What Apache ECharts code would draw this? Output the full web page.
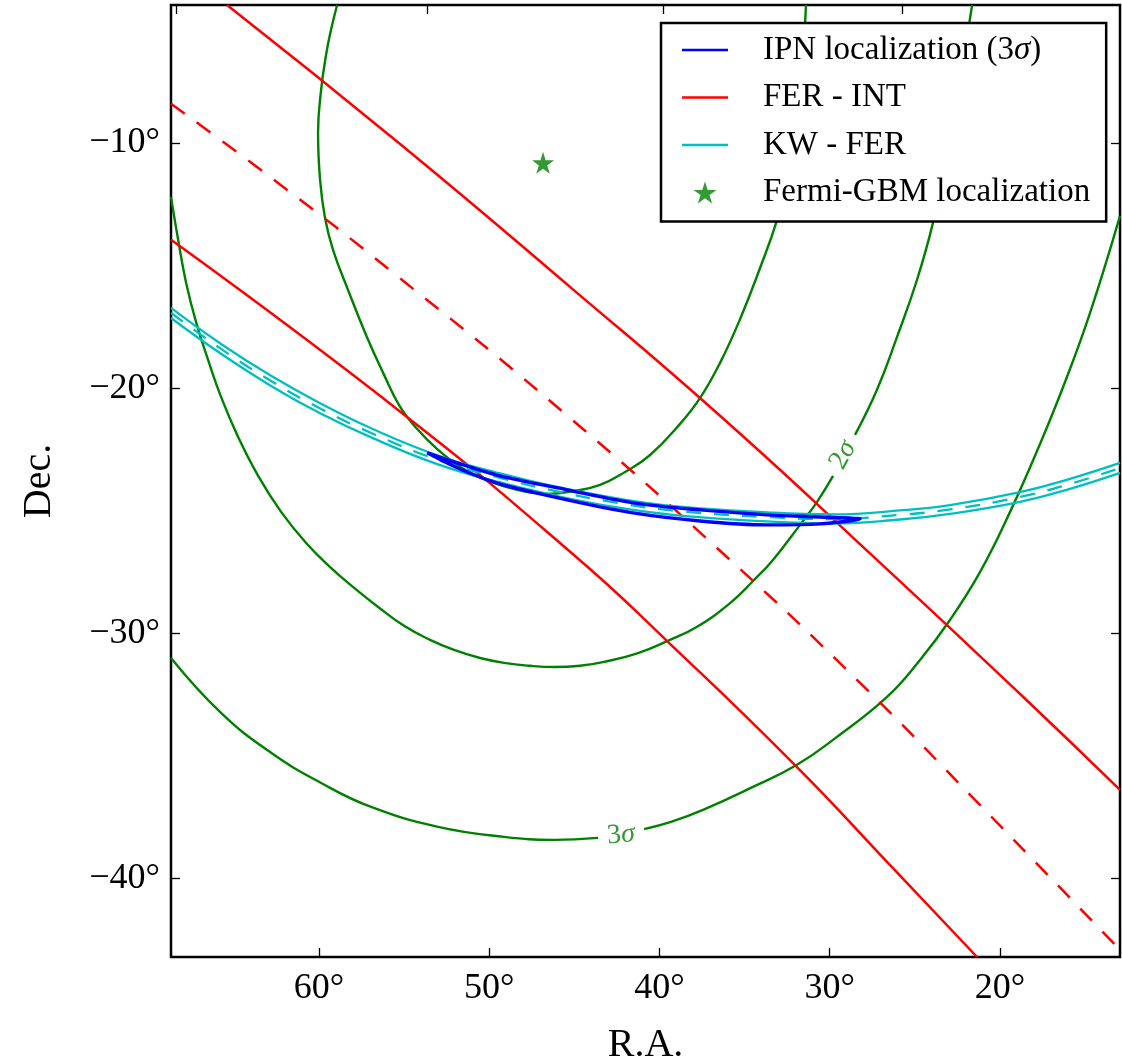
<!DOCTYPE html>
<html>
<head>
<meta charset="utf-8">
<script src="https://cdn.jsdelivr.net/npm/echarts@6/dist/echarts.min.js"></script>
<style>
html,body{margin:0;padding:0;background:#fff;}
#c{width:1122px;height:1062px;}
</style>
</head>
<body>
<div id="c"></div>
<script>
// ---- axes ----
const raTicks = [60, 50, 40, 30, 20];
const decTicks = [-40, -30, -20, -10];
const topTickRA = [68.40, 53.66, 39.80, 25.75];
const raRange = [12.94, 68.70];
const decRange = [-43.21, -4.37];

// ---- Fermi-GBM confidence contours [R.A., Dec.] ----
const sigma1 = [[58.94,-4.37],[59.30,-5.39],[59.59,-6.41],[59.88,-7.83],[60.06,-9.59],[59.94,-11.51],[59.65,-13.06],[59.18,-14.36],[58.30,-15.99],[57.24,-17.83],[56.18,-19.46],[55.30,-20.69],[54.30,-21.62],[53.01,-22.52],[51.60,-23.26],[50.07,-23.79],[48.37,-24.15],[46.72,-24.32],[44.96,-24.19],[43.49,-23.95],[42.02,-23.42],[40.55,-22.73],[38.79,-21.46],[37.61,-20.40],[36.44,-18.97],[35.26,-17.18],[34.09,-15.10],[33.09,-13.14],[32.56,-11.59],[32.15,-10.00],[31.80,-8.24],[31.56,-6.41],[31.39,-4.37]];
const sigma2Left = [[68.70,-12.20],[68.28,-13.95],[67.81,-15.71],[67.23,-17.30],[66.52,-18.85],[65.76,-20.36],[64.76,-21.99],[63.58,-23.58],[62.23,-25.05],[60.76,-26.32],[59.35,-27.30],[57.94,-28.15],[56.53,-28.93],[55.01,-29.70],[53.48,-30.27],[52.07,-30.68],[50.54,-31.01],[49.13,-31.21],[47.60,-31.33],[46.19,-31.38],[44.67,-31.33],[43.25,-31.17],[41.26,-30.81],[39.38,-30.27],[37.79,-29.74],[35.85,-28.77],[34.50,-27.87],[33.33,-27.01],[31.74,-25.58],[30.74,-24.64],[29.80,-23.58]];
const sigma2Right = [[28.51,-21.91],[27.22,-20.07],[26.04,-17.91],[24.87,-15.59],[23.93,-13.26],[23.16,-10.69],[22.51,-8.24],[22.04,-6.20],[21.63,-4.37]];
const sigma3Left = [[68.70,-31.01],[65.76,-33.25],[62.82,-34.88],[59.88,-36.11],[56.94,-37.09],[53.01,-37.90],[49.13,-38.31],[46.19,-38.43],[43.61,-38.35]];
const sigma3Right = [[40.90,-37.99],[39.32,-37.70],[37.44,-37.21],[34.50,-36.27],[31.92,-35.37],[29.57,-34.23],[26.63,-32.60],[24.69,-31.09],[22.93,-29.46],[21.16,-27.50],[19.40,-25.05],[17.64,-22.28],[16.17,-19.75],[14.70,-16.93],[12.94,-12.97]];
const contourLabelText = ['2σ', '3σ'];
const contourLabelPos = [[29.21,-22.73],[42.26,-38.23]];

// ---- FER - INT annulus ----
const ferIntEdgeA = [[65.41,-4.37],[55.24,-10.04],[45.19,-15.91],[36.44,-21.13],[27.22,-27.01],[18.81,-32.48],[12.94,-36.39]];
const ferIntEdgeB = [[68.70,-13.95],[55.36,-20.89],[44.96,-26.85],[39.49,-30.36],[31.92,-35.46],[26.63,-39.33],[21.34,-43.21]];
const ferIntCenter = [[68.70,-8.40],[62.41,-11.63],[55.71,-15.26],[45.61,-21.01],[35.85,-27.01],[28.21,-32.03],[21.63,-36.68],[12.94,-42.92]];

// ---- KW - FER annulus ----
const kwFerEdgeA = [[68.70,-16.73],[65.76,-18.20],[62.82,-19.50],[59.88,-20.64],[56.94,-21.64],[53.01,-22.75],[49.37,-23.48],[46.43,-23.97],[42.49,-24.50],[38.97,-24.83],[33.68,-25.07],[29.80,-25.15],[25.86,-24.99],[22.93,-24.77],[18.81,-24.24],[15.88,-23.70],[12.94,-23.05]];
const kwFerCenter = [[68.70,-16.93],[65.76,-18.40],[62.82,-19.71],[59.88,-20.85],[56.94,-21.83],[53.01,-22.93],[49.37,-23.66],[46.43,-24.15],[42.49,-24.68],[38.97,-25.01],[33.68,-25.26],[29.80,-25.34],[25.86,-25.17],[22.93,-24.95],[18.81,-24.44],[15.88,-23.91],[12.94,-23.26]];
const kwFerEdgeB = [[68.70,-17.14],[65.76,-18.60],[62.82,-19.91],[59.88,-21.05],[56.94,-22.01],[53.01,-23.11],[49.37,-23.85],[46.43,-24.34],[42.49,-24.87],[38.97,-25.19],[33.68,-25.44],[29.80,-25.52],[25.86,-25.36],[22.93,-25.13],[18.81,-24.64],[15.88,-24.11],[12.94,-23.46]];

// ---- IPN 3-sigma box ----
const ipnUpper = [[53.65,-22.64],[51.72,-23.09],[49.37,-23.58],[45.43,-24.15],[41.55,-24.68],[37.61,-24.97],[33.68,-25.17],[30.56,-25.26],[28.21,-25.34]];
const ipnLower = [[53.65,-22.64],[51.72,-23.30],[49.37,-23.91],[45.43,-24.56],[41.55,-25.09],[37.61,-25.42],[33.68,-25.58],[30.56,-25.54],[28.21,-25.34]];

// ---- Fermi-GBM position ----
const gbmStar = [[46.84,-10.81]];

// ---- legend names ----
const legendNames = ['IPN localization (3σ)', 'FER - INT', 'KW - FER', 'Fermi-GBM localization'];

const SERIF = "'Liberation Serif', 'DejaVu Serif', serif";
const GREEN = '#008000', RED = '#ff0000', CYAN = '#00bfbf', BLUE = '#0000ff';
const STAR = 'path://M50,2 L61.2,36.5 L97.6,36.5 L68.2,57.9 L79.4,92.4 L50,71 L20.6,92.4 L31.8,57.9 L2.4,36.5 L38.8,36.5 Z';
const LINE_ICON = 'path://M0,0 L46,0 L46,2.6 L0,2.6 Z';

function lineSeries(name, data, color, width, dashed, smooth, z) {
  return {
    type: 'line', name: name, data: data,
    showSymbol: false, symbol: 'none', smooth: smooth,
    clip: true, z: z || 2,
    lineStyle: { color: color, width: width, type: dashed || 'solid', cap: 'butt' },
    itemStyle: { color: color },
    emphasis: { disabled: true },
    silent: true
  };
}

const ipnClosed = ipnUpper.concat(ipnLower.slice().reverse());
const labelRot = [61, 5];

const chart = echarts.init(document.getElementById('c'), null, { renderer: 'canvas' });

const tickStyle = { color: '#000', width: 1.3 };
const option = {
  animation: false,
  backgroundColor: '#fff',
  grid: { left: 171, right: 2, top: 5, bottom: 105, show: true, borderColor: '#000', borderWidth: 2.5,
    backgroundColor: 'transparent', containLabel: false, outerBoundsMode: 'none' },
  legend: {
    data: legendNames.map(function (n, i) {
      return i < 3 ? { name: n, icon: LINE_ICON } : { name: n };
    }),
    orient: 'vertical',
    left: 661, top: 23,
    padding: [9, 16, 11, 21],
    itemGap: 11.5,
    itemWidth: 46,
    itemHeight: 22,
    backgroundColor: '#fff',
    borderColor: '#000',
    borderWidth: 2.5,
    borderRadius: 0,
    z: 10,
    selectedMode: false,
    formatter: function (n) { return n.replace('σ', '{i|σ}'); },
    textStyle: {
      fontFamily: SERIF, fontSize: 33, color: '#000', lineHeight: 36,
      width: 327, padding: [0, 0, 0, 30],
      rich: { i: { fontFamily: SERIF, fontSize: 33, fontStyle: 'italic', color: '#000', lineHeight: 36 } }
    }
  },
  xAxis: [
    {
      type: 'value', position: 'bottom', inverse: true,
      min: raRange[0], max: raRange[1],
      axisLine: { show: false }, splitLine: { show: false },
      axisTick: { show: true, inside: true, length: 9, customValues: raTicks, lineStyle: tickStyle },
      axisLabel: { show: true, customValues: raTicks, formatter: function (v) { return v + '°'; },
        fontFamily: SERIF, fontSize: 36, color: '#000', margin: 14 },
      name: 'R.A.', nameLocation: 'middle', nameGap: 68,
      nameTextStyle: { fontFamily: SERIF, fontSize: 40, color: '#000' }
    },
    {
      type: 'value', position: 'top', inverse: true,
      min: raRange[0], max: raRange[1],
      axisLine: { show: false }, splitLine: { show: false },
      axisTick: { show: true, inside: true, length: 9, customValues: topTickRA, lineStyle: tickStyle },
      axisLabel: { show: false, customValues: topTickRA }
    }
  ],
  yAxis: [
    {
      type: 'value', position: 'left',
      min: decRange[0], max: decRange[1],
      axisLine: { show: false }, splitLine: { show: false },
      axisTick: { show: true, inside: true, length: 9, customValues: decTicks, lineStyle: tickStyle },
      axisLabel: { show: true, customValues: decTicks,
        formatter: function (v) { return (v < 0 ? '\u2212' : '') + Math.abs(v) + '°'; },
        fontFamily: SERIF, fontSize: 36, color: '#000', margin: 11, padding: [6, 0, 0, 0] },
      name: 'Dec.', nameLocation: 'middle', nameGap: 112, nameRotate: 90,
      nameTextStyle: { fontFamily: SERIF, fontSize: 40, color: '#000' }
    },
    {
      type: 'value', position: 'right',
      min: decRange[0], max: decRange[1],
      axisLine: { show: false }, splitLine: { show: false },
      axisTick: { show: true, inside: true, length: 9, customValues: decTicks, lineStyle: tickStyle },
      axisLabel: { show: false, customValues: decTicks }
    }
  ],
  series: [
    lineSeries('1σ contour', sigma1, GREEN, 2.4, false, 0.45, 2),
    lineSeries('2σ contour', sigma2Left, GREEN, 2.4, false, 0.45, 2),
    lineSeries('2σ contour', sigma2Right, GREEN, 2.4, false, 0.45, 2),
    lineSeries('3σ contour', sigma3Left, GREEN, 2.4, false, 0.45, 2),
    lineSeries('3σ contour', sigma3Right, GREEN, 2.4, false, 0.45, 2),
    lineSeries('FER - INT', ferIntEdgeA, RED, 2.5, false, 0.5, 3),
    lineSeries('FER - INT', ferIntEdgeB, RED, 2.5, false, 0.5, 3),
    lineSeries('FER - INT', ferIntCenter, RED, 2.5, [17, 15], 0.5, 3),
    lineSeries('KW - FER', kwFerEdgeA, CYAN, 2.3, false, 0.45, 3),
    lineSeries('KW - FER', kwFerEdgeB, CYAN, 2.3, false, 0.45, 3),
    lineSeries('KW - FER', kwFerCenter, CYAN, 2.3, [15, 13], 0.45, 3),
    lineSeries('IPN localization (3σ)', ipnClosed, BLUE, 3.4, false, 0.3, 4),
    {
      type: 'scatter', name: 'Fermi-GBM localization', data: gbmStar,
      symbol: STAR, symbolSize: 22, z: 5, silent: true,
      itemStyle: { color: GREEN }
    },
    {
      type: 'scatter', name: 'contour labels', z: 5, silent: true,
      symbol: 'circle', symbolSize: 1,
      itemStyle: { color: 'rgba(0,0,0,0)' },
      data: contourLabelPos.map(function (p, i) {
        return {
          value: p,
          label: {
            show: true, position: 'inside', rotate: labelRot[i],
            formatter: contourLabelText[i].replace('σ', '{i|σ}'),
            fontFamily: SERIF, fontSize: 28, color: GREEN,
            rich: { i: { fontFamily: SERIF, fontSize: 28, fontStyle: 'italic', color: GREEN } }
          }
        };
      })
    }
  ]
};
chart.setOption(option);
</script>
</body>
</html>
